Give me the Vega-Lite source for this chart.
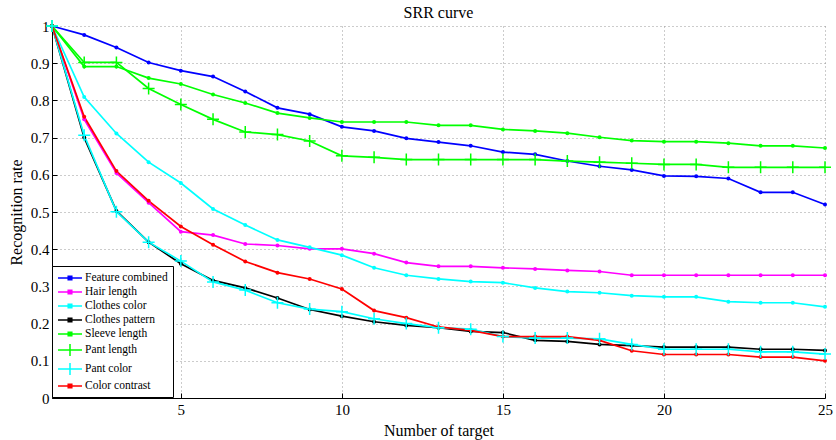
{
  "$schema": "https://vega.github.io/schema/vega-lite/v6.json",
  "width": 773,
  "height": 372,
  "autosize": "none",
  "padding": {"left": 52, "top": 26, "right": 11, "bottom": 42},
  "background": "white",
  "title": {"text": "SRR curve", "font": "Liberation Serif, DejaVu Serif, serif", "fontSize": 16, "fontWeight": "normal", "color": "black", "offset": -4},
  "config": {
    "view": {"stroke": null},
    "axis": {
      "labelFont": "Liberation Serif, DejaVu Serif, serif", "titleFont": "Liberation Serif, DejaVu Serif, serif",
      "labelFontSize": 15, "titleFontSize": 16, "titleFontWeight": "normal",
      "labelColor": "black", "titleColor": "black",
      "domainColor": "black", "domainWidth": 1, "tickColor": "black", "tickSize": -5,
      "gridColor": "#999999", "gridDash": [1, 3], "gridWidth": 1, "gridOpacity": 1
    }
  },
  "data": {"values": [
    {"s":"Feature combined","x":1,"y":1.0},{"s":"Feature combined","x":2,"y":0.976},{"s":"Feature combined","x":3,"y":0.942},{"s":"Feature combined","x":4,"y":0.902},{"s":"Feature combined","x":5,"y":0.880},{"s":"Feature combined","x":6,"y":0.864},{"s":"Feature combined","x":7,"y":0.824},{"s":"Feature combined","x":8,"y":0.780},{"s":"Feature combined","x":9,"y":0.763},{"s":"Feature combined","x":10,"y":0.729},{"s":"Feature combined","x":11,"y":0.718},{"s":"Feature combined","x":12,"y":0.698},{"s":"Feature combined","x":13,"y":0.688},{"s":"Feature combined","x":14,"y":0.678},{"s":"Feature combined","x":15,"y":0.661},{"s":"Feature combined","x":16,"y":0.655},{"s":"Feature combined","x":17,"y":0.637},{"s":"Feature combined","x":18,"y":0.623},{"s":"Feature combined","x":19,"y":0.613},{"s":"Feature combined","x":20,"y":0.597},{"s":"Feature combined","x":21,"y":0.596},{"s":"Feature combined","x":22,"y":0.590},{"s":"Feature combined","x":23,"y":0.553},{"s":"Feature combined","x":24,"y":0.553},{"s":"Feature combined","x":25,"y":0.520},
    {"s":"Hair length","x":1,"y":1.0},{"s":"Hair length","x":2,"y":0.749},{"s":"Hair length","x":3,"y":0.605},{"s":"Hair length","x":4,"y":0.525},{"s":"Hair length","x":5,"y":0.447},{"s":"Hair length","x":6,"y":0.438},{"s":"Hair length","x":7,"y":0.414},{"s":"Hair length","x":8,"y":0.410},{"s":"Hair length","x":9,"y":0.401},{"s":"Hair length","x":10,"y":0.401},{"s":"Hair length","x":11,"y":0.388},{"s":"Hair length","x":12,"y":0.364},{"s":"Hair length","x":13,"y":0.354},{"s":"Hair length","x":14,"y":0.354},{"s":"Hair length","x":15,"y":0.350},{"s":"Hair length","x":16,"y":0.347},{"s":"Hair length","x":17,"y":0.343},{"s":"Hair length","x":18,"y":0.340},{"s":"Hair length","x":19,"y":0.330},{"s":"Hair length","x":20,"y":0.330},{"s":"Hair length","x":21,"y":0.330},{"s":"Hair length","x":22,"y":0.330},{"s":"Hair length","x":23,"y":0.330},{"s":"Hair length","x":24,"y":0.330},{"s":"Hair length","x":25,"y":0.330},
    {"s":"Clothes color","x":1,"y":1.0},{"s":"Clothes color","x":2,"y":0.809},{"s":"Clothes color","x":3,"y":0.711},{"s":"Clothes color","x":4,"y":0.634},{"s":"Clothes color","x":5,"y":0.578},{"s":"Clothes color","x":6,"y":0.508},{"s":"Clothes color","x":7,"y":0.465},{"s":"Clothes color","x":8,"y":0.425},{"s":"Clothes color","x":9,"y":0.405},{"s":"Clothes color","x":10,"y":0.384},{"s":"Clothes color","x":11,"y":0.350},{"s":"Clothes color","x":12,"y":0.330},{"s":"Clothes color","x":13,"y":0.320},{"s":"Clothes color","x":14,"y":0.313},{"s":"Clothes color","x":15,"y":0.310},{"s":"Clothes color","x":16,"y":0.296},{"s":"Clothes color","x":17,"y":0.286},{"s":"Clothes color","x":18,"y":0.283},{"s":"Clothes color","x":19,"y":0.275},{"s":"Clothes color","x":20,"y":0.272},{"s":"Clothes color","x":21,"y":0.272},{"s":"Clothes color","x":22,"y":0.259},{"s":"Clothes color","x":23,"y":0.256},{"s":"Clothes color","x":24,"y":0.256},{"s":"Clothes color","x":25,"y":0.245},
    {"s":"Clothes pattern","x":1,"y":1.0},{"s":"Clothes pattern","x":2,"y":0.700},{"s":"Clothes pattern","x":3,"y":0.503},{"s":"Clothes pattern","x":4,"y":0.419},{"s":"Clothes pattern","x":5,"y":0.361},{"s":"Clothes pattern","x":6,"y":0.316},{"s":"Clothes pattern","x":7,"y":0.296},{"s":"Clothes pattern","x":8,"y":0.269},{"s":"Clothes pattern","x":9,"y":0.238},{"s":"Clothes pattern","x":10,"y":0.220},{"s":"Clothes pattern","x":11,"y":0.205},{"s":"Clothes pattern","x":12,"y":0.195},{"s":"Clothes pattern","x":13,"y":0.189},{"s":"Clothes pattern","x":14,"y":0.179},{"s":"Clothes pattern","x":15,"y":0.176},{"s":"Clothes pattern","x":16,"y":0.155},{"s":"Clothes pattern","x":17,"y":0.152},{"s":"Clothes pattern","x":18,"y":0.144},{"s":"Clothes pattern","x":19,"y":0.141},{"s":"Clothes pattern","x":20,"y":0.137},{"s":"Clothes pattern","x":21,"y":0.137},{"s":"Clothes pattern","x":22,"y":0.137},{"s":"Clothes pattern","x":23,"y":0.131},{"s":"Clothes pattern","x":24,"y":0.131},{"s":"Clothes pattern","x":25,"y":0.128},
    {"s":"Sleeve length","x":1,"y":1.0},{"s":"Sleeve length","x":2,"y":0.891},{"s":"Sleeve length","x":3,"y":0.891},{"s":"Sleeve length","x":4,"y":0.860},{"s":"Sleeve length","x":5,"y":0.844},{"s":"Sleeve length","x":6,"y":0.816},{"s":"Sleeve length","x":7,"y":0.793},{"s":"Sleeve length","x":8,"y":0.766},{"s":"Sleeve length","x":9,"y":0.753},{"s":"Sleeve length","x":10,"y":0.742},{"s":"Sleeve length","x":11,"y":0.742},{"s":"Sleeve length","x":12,"y":0.742},{"s":"Sleeve length","x":13,"y":0.733},{"s":"Sleeve length","x":14,"y":0.733},{"s":"Sleeve length","x":15,"y":0.722},{"s":"Sleeve length","x":16,"y":0.718},{"s":"Sleeve length","x":17,"y":0.712},{"s":"Sleeve length","x":18,"y":0.701},{"s":"Sleeve length","x":19,"y":0.692},{"s":"Sleeve length","x":20,"y":0.689},{"s":"Sleeve length","x":21,"y":0.689},{"s":"Sleeve length","x":22,"y":0.685},{"s":"Sleeve length","x":23,"y":0.678},{"s":"Sleeve length","x":24,"y":0.678},{"s":"Sleeve length","x":25,"y":0.672},
    {"s":"Pant length","x":1,"y":1.0},{"s":"Pant length","x":2,"y":0.902},{"s":"Pant length","x":3,"y":0.902},{"s":"Pant length","x":4,"y":0.832},{"s":"Pant length","x":5,"y":0.789},{"s":"Pant length","x":6,"y":0.749},{"s":"Pant length","x":7,"y":0.715},{"s":"Pant length","x":8,"y":0.708},{"s":"Pant length","x":9,"y":0.691},{"s":"Pant length","x":10,"y":0.651},{"s":"Pant length","x":11,"y":0.647},{"s":"Pant length","x":12,"y":0.641},{"s":"Pant length","x":13,"y":0.641},{"s":"Pant length","x":14,"y":0.641},{"s":"Pant length","x":15,"y":0.641},{"s":"Pant length","x":16,"y":0.641},{"s":"Pant length","x":17,"y":0.637},{"s":"Pant length","x":18,"y":0.634},{"s":"Pant length","x":19,"y":0.631},{"s":"Pant length","x":20,"y":0.628},{"s":"Pant length","x":21,"y":0.628},{"s":"Pant length","x":22,"y":0.620},{"s":"Pant length","x":23,"y":0.620},{"s":"Pant length","x":24,"y":0.620},{"s":"Pant length","x":25,"y":0.620},
    {"s":"Pant color","x":1,"y":1.0},{"s":"Pant color","x":2,"y":0.706},{"s":"Pant color","x":3,"y":0.501},{"s":"Pant color","x":4,"y":0.419},{"s":"Pant color","x":5,"y":0.368},{"s":"Pant color","x":6,"y":0.312},{"s":"Pant color","x":7,"y":0.290},{"s":"Pant color","x":8,"y":0.256},{"s":"Pant color","x":9,"y":0.239},{"s":"Pant color","x":10,"y":0.232},{"s":"Pant color","x":11,"y":0.213},{"s":"Pant color","x":12,"y":0.200},{"s":"Pant color","x":13,"y":0.189},{"s":"Pant color","x":14,"y":0.185},{"s":"Pant color","x":15,"y":0.165},{"s":"Pant color","x":16,"y":0.161},{"s":"Pant color","x":17,"y":0.161},{"s":"Pant color","x":18,"y":0.159},{"s":"Pant color","x":19,"y":0.144},{"s":"Pant color","x":20,"y":0.131},{"s":"Pant color","x":21,"y":0.131},{"s":"Pant color","x":22,"y":0.131},{"s":"Pant color","x":23,"y":0.124},{"s":"Pant color","x":24,"y":0.124},{"s":"Pant color","x":25,"y":0.118},
    {"s":"Color contrast","x":1,"y":1.0},{"s":"Color contrast","x":2,"y":0.756},{"s":"Color contrast","x":3,"y":0.610},{"s":"Color contrast","x":4,"y":0.530},{"s":"Color contrast","x":5,"y":0.461},{"s":"Color contrast","x":6,"y":0.412},{"s":"Color contrast","x":7,"y":0.367},{"s":"Color contrast","x":8,"y":0.337},{"s":"Color contrast","x":9,"y":0.320},{"s":"Color contrast","x":10,"y":0.293},{"s":"Color contrast","x":11,"y":0.235},{"s":"Color contrast","x":12,"y":0.216},{"s":"Color contrast","x":13,"y":0.191},{"s":"Color contrast","x":14,"y":0.182},{"s":"Color contrast","x":15,"y":0.165},{"s":"Color contrast","x":16,"y":0.165},{"s":"Color contrast","x":17,"y":0.165},{"s":"Color contrast","x":18,"y":0.155},{"s":"Color contrast","x":19,"y":0.127},{"s":"Color contrast","x":20,"y":0.117},{"s":"Color contrast","x":21,"y":0.117},{"s":"Color contrast","x":22,"y":0.117},{"s":"Color contrast","x":23,"y":0.110},{"s":"Color contrast","x":24,"y":0.110},{"s":"Color contrast","x":25,"y":0.100}
  ]},
  "encoding": {
    "x": {"field": "x", "type": "quantitative", "scale": {"domain": [1, 25], "nice": false, "zero": false},
      "axis": {"title": "Number of target", "values": [5, 10, 15, 20, 25], "grid": true, "labelFlush": false, "labelPadding": 9, "titlePadding": 5}},
    "y": {"field": "y", "type": "quantitative", "scale": {"domain": [0, 1], "nice": false},
      "axis": {"title": "Recognition rate", "values": [0, 0.1, 0.2, 0.3, 0.4, 0.5, 0.6, 0.7, 0.8, 0.9, 1], "format": "~g", "grid": true, "labelPadding": 8, "titlePadding": 6}},
    "color": {"field": "s", "type": "nominal",
      "scale": {"domain": ["Feature combined", "Hair length", "Clothes color", "Clothes pattern", "Sleeve length", "Pant length", "Pant color", "Color contrast"],
                "range": ["#0000ff", "#ff00ff", "#00ffff", "#000000", "#00ff00", "#00ff00", "#00ffff", "#ff0000"]}}
  },
  "layer": [
    {
      "mark": {"type": "line", "strokeWidth": 1.7},
      "encoding": {
        "color": {"field": "s", "type": "nominal",
          "legend": {"orient": "none", "legendX": 0, "legendY": 240, "title": null,
            "strokeColor": "black", "fillColor": "white", "padding": 5,
            "labelFont": "Liberation Serif, DejaVu Serif, serif", "labelFontSize": 11.5, "labelColor": "black", "labelOffset": 14,
            "symbolSize": 144, "symbolStrokeWidth": 1.5, "rowPadding": 1,
            "encode": {"symbols": {"update": {"shape": {"signal": "datum.value === 'Pant length' || datum.value === 'Pant color' ? 'M-1,0H3M1,-1V1' : 'M-1,0H3M0.7,-0.3H1.3V0.3H0.7Z'"}}}}}}
      }
    },
    {
      "transform": [{"filter": "datum.s !== 'Pant length' && datum.s !== 'Pant color'"}],
      "mark": {"type": "point", "filled": true, "shape": "circle", "size": 16, "opacity": 1},
      "encoding": {"color": {"field": "s", "type": "nominal", "legend": null}}
    },
    {
      "transform": [{"filter": "datum.s === 'Pant length' || datum.s === 'Pant color'"}],
      "mark": {"type": "point", "filled": false, "shape": "M-1,0H1M0,-1V1", "size": 144, "strokeWidth": 1.5, "opacity": 1},
      "encoding": {"color": {"field": "s", "type": "nominal", "legend": null}}
    }
  ]
}
